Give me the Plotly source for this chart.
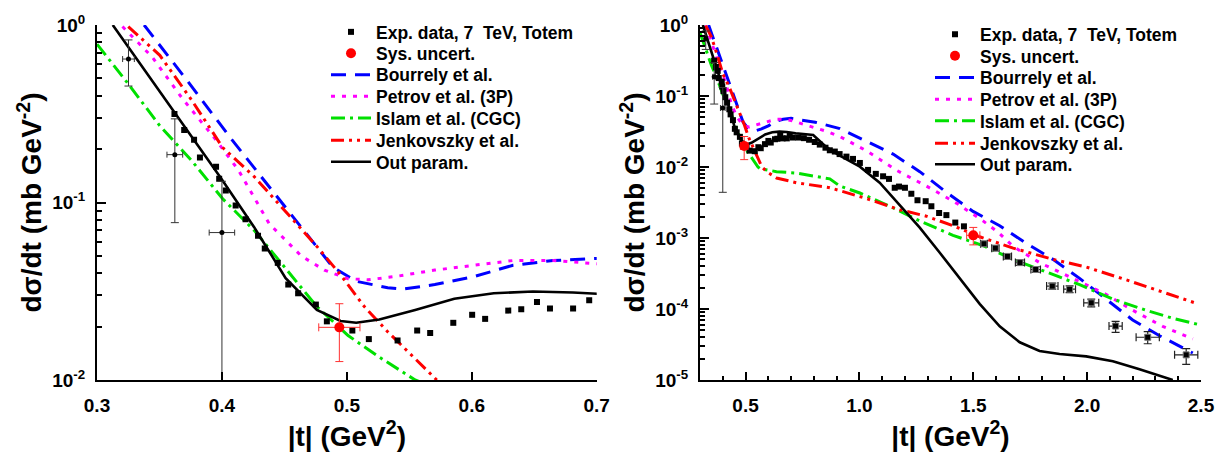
import plotly.graph_objects as go

# ---------------- data ----------------
exp_x = [0.362, 0.3698, 0.3777, 0.3824, 0.3953, 0.3978, 0.4031, 0.411, 0.4189, 0.4289,
         0.4343, 0.4447, 0.4531, 0.461, 0.4752, 0.484, 0.5044, 0.5176, 0.5406, 0.5563,
         0.5667, 0.5852, 0.6003, 0.6107, 0.6292, 0.6396, 0.6522, 0.6626, 0.6811, 0.694,
         0.707, 0.731, 0.756, 0.779, 0.804, 0.826, 0.851, 0.87, 0.892, 0.913,
         0.943, 0.972, 1.002, 1.038, 1.072, 1.104, 1.13, 1.155, 1.174, 1.2,
         1.228, 1.255, 1.291, 1.316, 1.35, 1.382, 1.421, 1.459]
exp_y = [0.315, 0.256, 0.226, 0.179, 0.159, 0.136, 0.117, 0.0962, 0.0805, 0.065,
         0.0551, 0.0457, 0.0345, 0.0308, 0.0266, 0.0214, 0.019, 0.017, 0.0167, 0.019,
         0.0184, 0.021, 0.0233, 0.0221, 0.0246, 0.025, 0.0275, 0.0253, 0.0253, 0.0281,
         0.026, 0.026, 0.0255, 0.0242, 0.0225, 0.0207, 0.0187, 0.0172, 0.0165, 0.0152,
         0.0140, 0.013, 0.0114, 0.0091, 0.0080, 0.0074, 0.0068, 0.0051, 0.0053, 0.0051,
         0.0042, 0.0034, 0.0033, 0.0028, 0.00225, 0.0021, 0.00165, 0.00146]

# low-|t| points with error bars
low_x = [0.3252, 0.3623, 0.400]
low_y = [0.643, 0.186, 0.0677]
low_yp = [0.181, 0.110, 0.064]
low_ym = [0.190, 0.109, 0.0633]
low_xe = [0.0047, 0.0063, 0.0102]

# high-|t| points with error bars
high_x = [1.547, 1.597, 1.65, 1.705, 1.774, 1.847, 1.923, 2.018, 2.125, 2.266, 2.435]
high_y = [8.3e-4, 7.2e-4, 5.5e-4, 4.5e-4, 3.6e-4, 2.1e-4, 1.9e-4, 1.22e-4, 5.75e-5, 4.0e-5, 2.26e-5]
high_yp = [0.6e-4, 0.55e-4, 0.45e-4, 0.4e-4, 0.35e-4, 0.22e-4, 0.22e-4, 0.16e-4, 0.95e-5, 0.8e-5, 0.5e-5]
high_ym = [0.6e-4, 0.55e-4, 0.45e-4, 0.4e-4, 0.33e-4, 0.2e-4, 0.2e-4, 0.15e-4, 1.05e-5, 0.76e-5, 0.6e-5]
high_xe = [0.015, 0.016, 0.018, 0.02, 0.021, 0.025, 0.026, 0.033, 0.029, 0.051, 0.051]

# systematic uncertainty points
sys_x = [0.494, 1.5]
sys_y = [0.0198, 0.00109]
sys_yp = [0.0071, 0.00032]
sys_ym = [0.0071, 0.00029]
sys_xe = [0.0165, 0.029]

# models
bour_x = [0.3377, 0.3723, 0.4069, 0.4415, 0.4698, 0.4887, 0.5075, 0.5327, 0.545, 0.5704,
          0.602, 0.633, 0.665, 0.7, 0.806, 0.914, 1.031, 1.148, 1.265, 1.382,
          1.499, 1.616, 1.733, 1.85, 1.967, 2.084, 2.2, 2.318, 2.464]
bour_y = [1.0, 0.485, 0.231, 0.114, 0.0641, 0.0433, 0.036, 0.0331, 0.0325, 0.0345,
          0.0383, 0.0443, 0.0471, 0.0484, 0.0427, 0.0348, 0.023, 0.0152, 0.0086, 0.0044,
          0.00237, 0.00149, 8.4e-4, 5.0e-4, 2.7e-4, 1.38e-4, 7.0e-5, 4.2e-5, 2.4e-5]

petr_x = [0.3204, 0.344, 0.369, 0.394, 0.413, 0.438, 0.4635, 0.482, 0.501, 0.517,
          0.539, 0.5704, 0.602, 0.633, 0.665, 0.7, 0.858, 0.914, 1.031, 1.16,
          1.294, 1.426, 1.543, 1.61, 1.675, 1.791, 1.937, 2.084, 2.2, 2.332, 2.464]
petr_y = [0.98, 0.662, 0.38, 0.231, 0.153, 0.0757, 0.050, 0.0416, 0.0372, 0.0367,
          0.0383, 0.0416, 0.0443, 0.0471, 0.0471, 0.0452, 0.0316, 0.0269, 0.0169, 0.0091,
          0.0054, 0.0031, 0.00174, 0.0012, 7.6e-4, 4.5e-4, 2.7e-4, 1.6e-4, 9.6e-5, 5.7e-5, 3.8e-5]

isl_x = [0.3, 0.325, 0.35, 0.3755, 0.4006, 0.4258, 0.451, 0.476, 0.501, 0.5264,
         0.5547, 0.563, 0.636, 0.724, 0.87, 0.914, 1.002, 1.133, 1.265, 1.411,
         1.543, 1.675, 1.821, 1.967, 2.113, 2.259, 2.376, 2.493]
isl_y = [0.78, 0.466, 0.272, 0.173, 0.105, 0.0697, 0.0425, 0.0259, 0.0178, 0.0134,
         0.0100, 0.0095, 0.0086, 0.0082, 0.0068, 0.0054, 0.0043, 0.0028, 0.00174, 0.00109,
         7.8e-4, 5.0e-4, 3.3e-4, 2.2e-4, 1.38e-4, 9.6e-5, 7.4e-5, 6.0e-5]

jenk_x = [0.325, 0.3503, 0.3755, 0.4006, 0.4258, 0.451, 0.476, 0.495, 0.514, 0.533,
          0.5516, 0.572, 0.593, 0.636, 0.724, 0.87, 1.031, 1.177, 1.294, 1.411,
          1.528, 1.675, 1.85, 1.996, 2.172, 2.318, 2.487]
jenk_y = [0.98, 0.675, 0.38, 0.204, 0.14, 0.0893, 0.0566, 0.0391, 0.0259, 0.0186,
          0.0139, 0.0100, 0.0086, 0.0070, 0.0060, 0.0051, 0.0036, 0.0025, 0.00203, 0.00149,
          1.04e-3, 7.2e-4, 5.0e-4, 3.9e-4, 2.57e-4, 1.79e-4, 1.18e-4]

out_x = [0.3126, 0.3629, 0.399, 0.4258, 0.451, 0.476, 0.495, 0.5075, 0.526, 0.5547,
         0.586, 0.6176, 0.649, 0.681, 0.7, 0.72, 0.797, 0.858, 0.914, 1.002,
         1.089, 1.177, 1.265, 1.353, 1.44, 1.528, 1.616, 1.704, 1.791, 1.879,
         1.996, 2.113, 2.23, 2.318, 2.376]
out_y = [1.0, 0.315, 0.138, 0.0726, 0.0375, 0.0248, 0.0215, 0.0210, 0.0219, 0.0248,
         0.0287, 0.0308, 0.0315, 0.0311, 0.0305, 0.0298, 0.0283, 0.0187, 0.0145, 0.0101,
         0.006, 0.0029, 0.0014, 6.2e-4, 2.7e-4, 1.18e-4, 5.7e-5, 3.4e-5, 2.56e-5, 2.33e-5,
         2.15e-5, 1.84e-5, 1.42e-5, 1.16e-5, 1.0e-5]

legend_names = ["Exp. data, 7\u00a0 TeV, Totem", "Sys. uncert.", "Bourrely et al.",
                "Petrov et al. (3P)", "Islam et al. (CGC)", "Jenkovszky et al.", "Out param."]

left_xticks = [0.3, 0.4, 0.5, 0.6, 0.7]
left_xtext = ["0.3", "0.4", "0.5", "0.6", "0.7"]
right_xticks = [0.5, 1.0, 1.5, 2.0, 2.5]
right_xtext = ["0.5", "1.0", "1.5", "2.0", "2.5"]

# ---------------- figure ----------------
W, H = 1229, 457
ML, MR, MT, MB = 97, 28, 22, 64
PW, PH = W - ML - MR, H - MT - MB


def px2x(px):
    return (px - ML) / PW


def px2y(py):
    return (H - MB - py) / PH


FONT = "Liberation Sans, Arial, sans-serif"
fig = go.Figure()

models = [
    (bour_x, bour_y, "#0000ff", "15px,9px", 3.0),
    (petr_x, petr_y, "#ff00ff", "4px,7px", 3.0),
    (isl_x, isl_y, "#00e000", "14px,5px,3px,5px", 3.0),
    (jenk_x, jenk_y, "#ff0000", "13px,5px,3px,5px,3px,5px", 3.0),
    (out_x, out_y, "#000000", "solid", 2.6),
]

panels = [("x", "y", 0), ("x2", "y2", 7)]
for xa, ya, off in panels:
    def lg(i):
        n = off + i + 1
        return "legend" if n == 1 else "legend%d" % n
    # models
    for k, (mx, my, col, dash, lw) in enumerate(models):
        fig.add_trace(go.Scatter(x=mx, y=my, mode="lines", name=legend_names[2 + k],
                                 line=dict(color=col, dash=dash, width=lw),
                                 xaxis=xa, yaxis=ya, legend=lg(2 + k)))
    # data
    fig.add_trace(go.Scatter(x=exp_x, y=exp_y, mode="markers", name=legend_names[0],
                             marker=dict(symbol="square", size=6, color="black"),
                             xaxis=xa, yaxis=ya, legend=lg(0)))
    fig.add_trace(go.Scatter(x=low_x, y=low_y, mode="markers", showlegend=False,
                             marker=dict(symbol="circle", size=5, color="black"),
                             error_y=dict(type="data", array=low_yp, arrayminus=low_ym,
                                          color="#333333", thickness=1, width=4),
                             error_x=dict(type="data", array=low_xe, color="#333333",
                                          thickness=1, width=3),
                             xaxis=xa, yaxis=ya))
    fig.add_trace(go.Scatter(x=high_x, y=high_y, mode="markers", showlegend=False,
                             marker=dict(symbol="square", size=6, color="black",
                                         line=dict(color="#777777", width=1)),
                             error_y=dict(type="data", array=high_yp, arrayminus=high_ym,
                                          color="#222222", thickness=1.2, width=4),
                             error_x=dict(type="data", array=high_xe, color="#222222",
                                          thickness=1.2, width=4),
                             xaxis=xa, yaxis=ya))
    fig.add_trace(go.Scatter(x=sys_x, y=sys_y, mode="markers", name=legend_names[1],
                             marker=dict(symbol="circle", size=10, color="#ff0000"),
                             error_y=dict(type="data", array=sys_yp, arrayminus=sys_ym,
                                          color="#ff3030", thickness=1, width=4),
                             error_x=dict(type="data", array=sys_xe, color="#ff3030",
                                          thickness=1, width=4),
                             xaxis=xa, yaxis=ya, legend=lg(1)))

# legends: one entry each for exact row spacing
rows_left = [29.3, 51.7, 74.0, 96.7, 119.3, 142.7, 165.0]
rows_right = [31.7, 54.3, 77.0, 99.7, 122.3, 145.7, 167.7]
legend_layout = {}
for j, (tx, rows) in enumerate([(379, rows_left), (983, rows_right)]):
    for i, ry in enumerate(rows):
        n = j * 7 + i + 1
        key = "legend" if n == 1 else "legend%d" % n
        legend_layout[key] = dict(
            x=px2x(tx - 53), y=px2y(ry), xanchor="left", yanchor="middle",
            bgcolor="rgba(0,0,0,0)", borderwidth=0, itemwidth=40,
            font=dict(family=FONT, size=17.5, color="black", weight="bold"),
            tracegroupgap=0)

tickfont = dict(family=FONT, size=19, color="black", weight="bold")
titlefont = dict(family=FONT, size=28, color="black", weight="bold")


def log_minor(lo, hi):
    vals = []
    for e in range(lo, hi):
        for m in range(2, 10):
            vals.append(m * 10.0 ** e)
    return vals


common_x = dict(showline=True, linecolor="black", linewidth=2, mirror=False,
                showgrid=False, zeroline=False, ticks="inside", ticklen=8, tickwidth=2,
                tickcolor="black", tickfont=tickfont, tickmode="array",
                ticklabelstandoff=7)
common_y = dict(type="log", showline=True, linecolor="black", linewidth=2, mirror=False,
                showgrid=False, zeroline=False, ticks="inside", ticklen=9, tickwidth=2,
                tickcolor="black", tickfont=tickfont, tickmode="array",
                ticklabelstandoff=6)

fig.update_layout(
    width=W, height=H,
    margin=dict(l=ML, r=MR, t=MT, b=MB),
    paper_bgcolor="white", plot_bgcolor="white",
    font=dict(family=FONT, color="black"),
    xaxis=dict(common_x, domain=[0, px2x(596.7)], range=[0.3, 0.7],
               tickvals=left_xticks, ticktext=left_xtext,
               title=dict(text="|t| (GeV<sup>2</sup>)", font=titlefont, standoff=10)),
    xaxis2=dict(common_x, domain=[px2x(700), 1.0], range=[0.3, 2.5], anchor="y2",
                tickvals=right_xticks, ticktext=right_xtext,
                minor=dict(tickmode="array", tickvals=[0.3, 0.4, 0.6, 0.7, 0.8, 0.9, 1.1, 1.2, 1.3, 1.4,
                                                       1.6, 1.7, 1.8, 1.9, 2.1, 2.2, 2.3, 2.4],
                           ticks="inside", ticklen=4, tickwidth=1.5, tickcolor="black"),
                title=dict(text="|t| (GeV<sup>2</sup>)", font=titlefont, standoff=10)),
    yaxis=dict(common_y, range=[-2, 0],
               tickvals=[1, 0.1, 0.01],
               ticktext=["10<sup>0</sup>", "10<sup>-1</sup>", "10<sup>-2</sup>"],
               minor=dict(tickmode="array", tickvals=log_minor(-2, 0), ticks="inside",
                          ticklen=5, tickwidth=1.5, tickcolor="black"),
               title=dict(text="d\u03c3/dt (mb GeV<sup>-2</sup>)", font=titlefont, standoff=2)),
    yaxis2=dict(common_y, range=[-5, 0], anchor="x2",
                tickvals=[1, 0.1, 0.01, 1e-3, 1e-4, 1e-5],
                ticktext=["10<sup>0</sup>", "10<sup>-1</sup>", "10<sup>-2</sup>",
                          "10<sup>-3</sup>", "10<sup>-4</sup>", "10<sup>-5</sup>"],
                minor=dict(tickmode="array", tickvals=log_minor(-5, 0), ticks="inside",
                           ticklen=5, tickwidth=1.5, tickcolor="black"),
                title=dict(text="d\u03c3/dt (mb GeV<sup>-2</sup>)", font=titlefont, standoff=2)),
    **legend_layout,
)

fig.write_html("out.html")
